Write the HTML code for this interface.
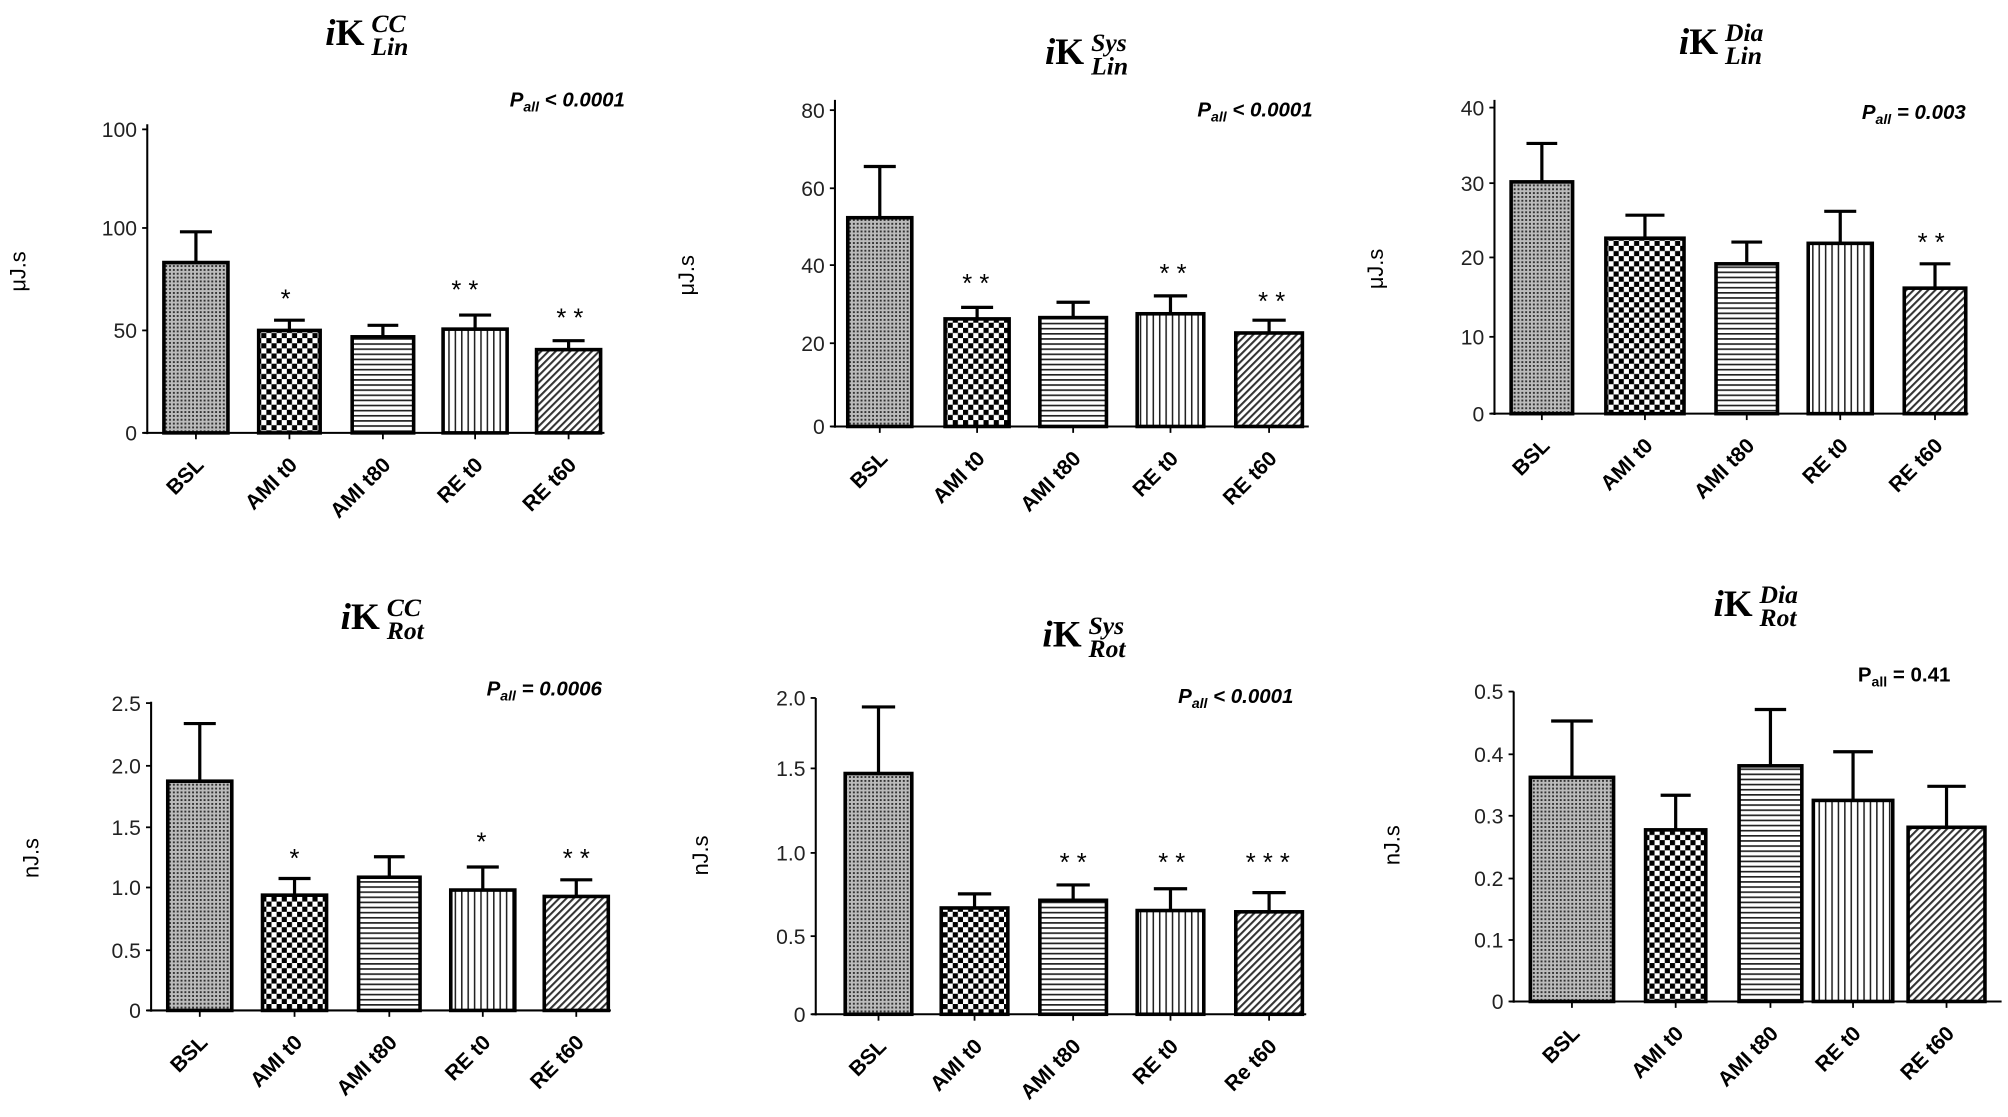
<!DOCTYPE html>
<html><head><meta charset="utf-8"><style>html,body{margin:0;padding:0;background:#fff}svg{display:block}</style></head>
<body>
<svg id="s" width="2008" height="1117" viewBox="0 0 1568 872.2" xmlns="http://www.w3.org/2000/svg">
<defs>
<pattern id="pBSL" width="3" height="3" patternUnits="userSpaceOnUse"><rect width="3" height="3" fill="#bbb"/><rect width="1.5" height="1.5" fill="#333"/></pattern>
<pattern id="pChk" width="8" height="8" patternUnits="userSpaceOnUse"><rect width="8" height="8" fill="#fff"/><rect width="4" height="4" fill="#000"/><rect x="4" y="4" width="4" height="4" fill="#000"/></pattern>
<pattern id="pH" width="4" height="4" patternUnits="userSpaceOnUse"><rect width="4" height="4" fill="#fff"/><rect width="4" height="1.3" fill="#222"/></pattern>
<pattern id="pV" width="5" height="5" patternUnits="userSpaceOnUse"><rect width="5" height="5" fill="#fff"/><rect width="1.2" height="5" fill="#222"/></pattern>
<pattern id="pD" width="4" height="4" patternUnits="userSpaceOnUse" patternTransform="rotate(45)"><rect width="4" height="4" fill="#fff"/><rect width="1.6" height="4" fill="#333"/></pattern>
</defs>
</svg>
<script>
var S=document.getElementById('s'),h='';
var pats=['pBSL','pChk','pH','pV','pD'];
var charts=[
{ax:115,top:97,base:338,right:472,ticks:[[338,'0'],[258,'50'],[178,'100'],[101,'100']],
 bars:[[128,178,205,181],[202,250,258,250],[275,323,263,254],[346,396,257,246],[419,469,273,266]],
 stars:[[223,240,'*'],[363,233,'* *'],[445,255,'* *']],p:[488,83,'< 0.0001',1],t:[288,'CC','Lin',30],yl:[20,212,'μJ.s'],
 lab:['BSL','AMI t0','AMI t80','RE t0','RE t60']},
{ax:652,top:78,base:333,right:1022,ticks:[[333,'0'],[268,'20'],[207,'40'],[147,'60'],[86,'80']],
 bars:[[662,712,170,130],[738,788,249,240],[812,864,248,236],[888,940,245,231],[965,1017,260,250]],
 stars:[[762,228,'* *'],[916,220,'* *'],[993,242,'* *']],p:[1025,91,'< 0.0001',1],t:[850,'Sys','Lin',45],yl:[542,215,'μJ.s'],
 lab:['BSL','AMI t0','AMI t80','RE t0','RE t60']},
{ax:1167,top:78,base:323,right:1537,ticks:[[323,'0'],[263,'10'],[201,'20'],[143,'30'],[84,'40']],
 bars:[[1180,1228,142,112],[1254,1315,186,168],[1340,1388,206,189],[1412,1462,190,165],[1487,1535,225,206]],
 stars:[[1508,196,'* *']],p:[1535,93,'= 0.003',1],t:[1345,'Dia','Lin',37],yl:[1080,210,'μJ.s'],
 lab:['BSL','AMI t0','AMI t80','RE t0','RE t60']},
{ax:118,top:548,base:789,right:477,ticks:[[789,'0'],[742,'0.5'],[693,'1.0'],[646,'1.5'],[598,'2.0'],[549,'2.5']],
 bars:[[131,181,610,565],[205,255,699,686],[280,328,685,669],[352,402,695,677],[425,475,700,687]],
 stars:[[230,677,'*'],[376,664,'*'],[450,677,'* *']],p:[470,543,'= 0.0006',1],t:[300,'CC','Rot',486],yl:[30,670,'nJ.s'],
 lab:['BSL','AMI t0','AMI t80','RE t0','RE t60']},
{ax:637,top:545,base:792,right:1020,ticks:[[792,'0'],[731,'0.5'],[666,'1.0'],[600,'1.5'],[545,'2.0']],
 bars:[[660,712,604,552],[735,787,709,698],[812,864,703,691],[888,940,711,694],[965,1017,712,697]],
 stars:[[838,680,'* *'],[915,680,'* *'],[990,680,'* * *']],p:[1010,549,'< 0.0001',1],t:[848,'Sys','Rot',500],yl:[553,668,'nJ.s'],
 lab:['BSL','AMI t0','AMI t80','RE t0','Re t60']},
{ax:1182,top:540,base:782,right:1563,ticks:[[782,'0'],[734,'0.1'],[686,'0.2'],[637,'0.3'],[589,'0.4'],[540,'0.5']],
 bars:[[1195,1260,607,563],[1285,1332,648,621],[1358,1407,598,554],[1416,1478,625,587],[1490,1550,646,614]],
 stars:[],p:[1523,532,'= 0.41',0],t:[1372,'Dia','Rot',476],yl:[1093,660,'nJ.s'],
 lab:['BSL','AMI t0','AMI t80','RE t0','RE t60']}
];
charts.forEach(function(c){
 h+='<line x1="'+c.ax+'" y1="'+c.top+'" x2="'+c.ax+'" y2="'+(c.base+1)+'" stroke="#000" stroke-width="1.6"/>';
 h+='<line x1="'+(c.ax-3)+'" y1="'+c.base+'" x2="'+c.right+'" y2="'+c.base+'" stroke="#000" stroke-width="1.6"/>';
 c.ticks.forEach(function(t){
  h+='<line x1="'+(c.ax-4)+'" y1="'+t[0]+'" x2="'+c.ax+'" y2="'+t[0]+'" stroke="#000" stroke-width="1.4"/>';
  h+='<text x="'+(c.ax-8)+'" y="'+(t[0]+6)+'" font-family="Liberation Sans,sans-serif" font-size="16.5" fill="#222" text-anchor="end">'+t[1]+'</text>';
 });
 c.bars.forEach(function(b,i){
  var cx=(b[0]+b[1])/2,w=(b[1]-b[0])*0.25;
  h+='<line x1="'+cx+'" y1="'+b[3]+'" x2="'+cx+'" y2="'+b[2]+'" stroke="#000" stroke-width="2.5"/>';
  h+='<line x1="'+(cx-w)+'" y1="'+b[3]+'" x2="'+(cx+w)+'" y2="'+b[3]+'" stroke="#000" stroke-width="2.5"/>';
  h+='<rect x="'+b[0]+'" y="'+b[2]+'" width="'+(b[1]-b[0])+'" height="'+(c.base-b[2])+'" fill="url(#'+pats[i]+')" stroke="#000" stroke-width="2.8"/>';
  h+='<line x1="'+cx+'" y1="'+c.base+'" x2="'+cx+'" y2="'+(c.base+5)+'" stroke="#000" stroke-width="1.4"/>';
  h+='<text transform="translate('+(cx+7)+','+(c.base+26)+') rotate(-45)" font-family="Liberation Sans,sans-serif" font-size="16.5" font-weight="bold" text-anchor="end">'+c.lab[i]+'</text>';
 });
 c.stars.forEach(function(s){h+='<text x="'+s[0]+'" y="'+s[1]+'" font-family="Liberation Sans,sans-serif" font-size="20" text-anchor="middle">'+s[2]+'</text>';});
 var p=c.p,it=p[3]?' font-style="italic"':'';
 h+='<text x="'+p[0]+'" y="'+p[1]+'" font-family="Liberation Sans,sans-serif" font-size="16" font-weight="bold"'+it+' text-anchor="end">P<tspan font-size="11" dy="4">all</tspan><tspan dy="-4"> '+p[2]+'</tspan></text>';
 var t=c.t;
 h+='<text x="'+(t[0]-34)+'" y="'+(t[3]+5)+'" font-family="Liberation Serif,serif" font-size="29" font-weight="bold"><tspan font-style="italic">i</tspan>K</text>';
 h+='<text x="'+(t[0]+2)+'" y="'+(t[3]-5)+'" font-family="Liberation Serif,serif" font-size="20" font-weight="bold" font-style="italic">'+t[1]+'</text>';
 h+='<text x="'+(t[0]+2)+'" y="'+(t[3]+13)+'" font-family="Liberation Serif,serif" font-size="20" font-weight="bold" font-style="italic">'+t[2]+'</text>';
 h+='<text transform="translate('+c.yl[0]+','+c.yl[1]+') rotate(-90)" font-family="Liberation Sans,sans-serif" font-size="17" text-anchor="middle">'+c.yl[2]+'</text>';
});
S.insertAdjacentHTML('beforeend',h);
</script>
</body></html>
